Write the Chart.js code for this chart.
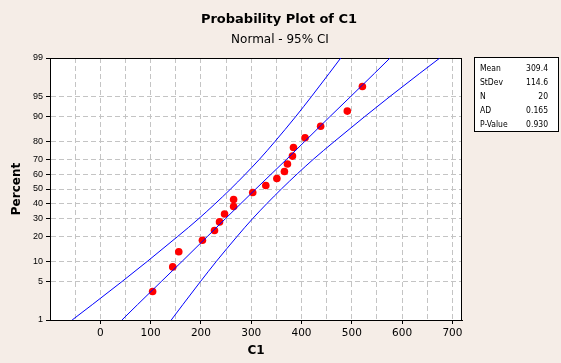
<!DOCTYPE html>
<html>
<head>
<meta charset="utf-8">
<script src="https://cdn.jsdelivr.net/npm/chart.js@4.4.0/dist/chart.umd.min.js"></script>
<style>
  html, body { margin: 0; padding: 0; background: #F5EDE7; }
  #wrap { width: 561px; height: 363px; }
</style>
</head>
<body>
<div id="wrap"><canvas id="c" width="561" height="363"></canvas></div>
<script>
// ---- data ----
const sampleValues = [104, 144, 156, 203, 227, 237, 247, 265, 265, 303, 329, 351, 366, 372, 382, 384, 407, 438, 491, 521];
const samplePercents = [3.43, 8.33, 13.24, 18.14, 23.04, 27.94, 32.84, 37.75, 42.65, 47.55, 52.45, 57.35, 62.25, 67.16, 72.06, 76.96, 81.86, 86.76, 91.67, 96.57];

const curvePercents = [1, 2, 5, 10, 20, 30, 50, 70, 80, 90, 95, 98, 99];
const lowerBandX = [-56, -16, 43, 94, 154, 196, 259, 316, 347, 388, 420, 455, 478];
const fitLineX   = [43, 74, 121, 163, 213, 249, 309, 370, 406, 456, 498, 545, 576];
const upperBandX = [141, 164, 199, 231, 272, 303, 360, 423, 465, 525, 576, 635, 675];

const yTickPercents = [1, 5, 10, 20, 30, 40, 50, 60, 70, 80, 90, 95, 99];
const xGridValues = [-50, 0, 50, 100, 150, 200, 250, 300, 350, 400, 450, 500, 550, 600, 650, 700];

const statLabels = ['Mean', 'StDev', 'N', 'AD', 'P-Value'];
const statValues = ['309.4', '114.6', '20', '0.165', '0.930'];

const titleText = 'Probability Plot of C1';
const subtitleText = 'Normal - 95% CI';

// ---- inverse normal CDF for the probability axis ----
function probit(p) {
  const a=[-3.969683028665376e+01,2.209460984245205e+02,-2.759285104469687e+02,1.383577518672690e+02,-3.066479806614716e+01,2.506628277459239e+00];
  const b=[-5.447609879822406e+01,1.615858368580409e+02,-1.556989798598866e+02,6.680131188771972e+01,-1.328068155288572e+01];
  const c=[-7.784894002430293e-03,-3.223964580411365e-01,-2.400758277161838e+00,-2.549732539343734e+00,4.374664141464968e+00,2.938163982698783e+00];
  const d=[7.784695709041462e-03,3.224671290700398e-01,2.445134137142996e+00,3.754408661907416e+00];
  const pl = 0.02425, ph = 1 - pl;
  let q, r;
  if (p < pl) { q = Math.sqrt(-2*Math.log(p)); return (((((c[0]*q+c[1])*q+c[2])*q+c[3])*q+c[4])*q+c[5])/((((d[0]*q+d[1])*q+d[2])*q+d[3])*q+1); }
  if (p <= ph) { q = p - 0.5; r = q*q; return (((((a[0]*r+a[1])*r+a[2])*r+a[3])*r+a[4])*r+a[5])*q/(((((b[0]*r+b[1])*r+b[2])*r+b[3])*r+b[4])*r+1); }
  q = Math.sqrt(-2*Math.log(1-p)); return -(((((c[0]*q+c[1])*q+c[2])*q+c[3])*q+c[4])*q+c[5])/((((d[0]*q+d[1])*q+d[2])*q+d[3])*q+1);
}

class ProbabilityScale extends Chart.LinearScale {
  determineDataLimits() {
    this.min = this.options.min;
    this.max = this.options.max;
  }
  buildTicks() {
    return yTickPercents.map(v => ({ value: v }));
  }
  getPixelForValue(v) {
    const z0 = probit(this.min / 100), z1 = probit(this.max / 100);
    return this.getPixelForDecimal((probit(v / 100) - z0) / (z1 - z0));
  }
  getValueForPixel(px) {
    let lo = this.min, hi = this.max;
    for (let i = 0; i < 60; i++) {
      const mid = (lo + hi) / 2;
      const pm = this.getPixelForValue(mid);
      if (pm > px) lo = mid; else hi = mid;
    }
    return (lo + hi) / 2;
  }
}
ProbabilityScale.id = 'probability';
Chart.register(ProbabilityScale);

const BG = '#F5EDE7';

const decorPlugin = {
  id: 'decor',
  beforeDraw(chart) {
    const { ctx, chartArea: a } = chart;
    ctx.save();
    ctx.fillStyle = BG;
    ctx.fillRect(0, 0, chart.width, chart.height);
    ctx.fillStyle = '#FFFFFF';
    ctx.fillRect(a.left, a.top, a.right - a.left, a.bottom - a.top);
    ctx.restore();
  },
  beforeDatasetsDraw(chart) {
    const { ctx, chartArea: a } = chart;
    ctx.save();
    ctx.strokeStyle = '#000';
    ctx.lineWidth = 1;
    ctx.setLineDash([]);
    ctx.strokeRect(Math.round(a.left) + 0.5, Math.round(a.top) + 0.5, Math.round(a.right - a.left) - 1, Math.round(a.bottom - a.top));
    ctx.restore();
  },
  afterDraw(chart) {
    const { ctx } = chart;
    ctx.save();
    ctx.fillStyle = '#000';
    ctx.textAlign = 'center';
    ctx.textBaseline = 'alphabetic';
    ctx.font = 'bold 13px "DejaVu Sans"';
    ctx.fillText(titleText, 279, 23);
    ctx.font = '12px "DejaVu Sans"';
    ctx.fillText(subtitleText, 280, 42.5);

    // stats box
    ctx.fillStyle = '#FFFFFF';
    ctx.fillRect(474.5, 57.5, 84, 74);
    ctx.strokeStyle = '#000';
    ctx.lineWidth = 1;
    ctx.strokeRect(474.5, 57.5, 84, 74);
    ctx.fillStyle = '#000';
    ctx.font = '8.5px "DejaVu Sans Condensed", "DejaVu Sans", sans-serif';
    for (let i = 0; i < statLabels.length; i++) {
      const y = 71.3 + i * 13.9;
      ctx.textAlign = 'left';
      ctx.fillText(statLabels[i], 480, y);
      ctx.textAlign = 'right';
      ctx.fillText(statValues[i], 548, y);
    }
    ctx.restore();
  }
};

const lineStyle = {
  type: 'line',
  borderColor: '#0000FF',
  borderWidth: 1,
  pointRadius: 0,
  fill: false,
  cubicInterpolationMode: 'monotone',
  showLine: true
};

new Chart(document.getElementById('c'), {
  type: 'scatter',
  data: {
    datasets: [
      Object.assign({ data: curvePercents.map((p, i) => ({ x: lowerBandX[i], y: p })) }, lineStyle),
      Object.assign({ data: curvePercents.map((p, i) => ({ x: fitLineX[i], y: p })) }, lineStyle),
      Object.assign({ data: curvePercents.map((p, i) => ({ x: upperBandX[i], y: p })) }, lineStyle),
      {
        type: 'scatter',
        data: sampleValues.map((x, i) => ({ x: x, y: samplePercents[i] })),
        backgroundColor: '#FF0000',
        borderWidth: 0,
        pointRadius: 3.8,
        showLine: false
      }
    ]
  },
  options: {
    responsive: false,
    animation: false,
    devicePixelRatio: 1,
    layout: { padding: { left: 0, top: 58, right: 99, bottom: 0 } },
    plugins: { legend: { display: false }, tooltip: { enabled: false }, title: { display: false } },
    scales: {
      x: {
        type: 'linear',
        min: -100,
        max: 719,
        afterBuildTicks(scale) { scale.ticks = xGridValues.map(v => ({ value: v })); },
        afterFit(scale) { scale.height = 43; },
        ticks: {
          autoSkip: false,
          maxRotation: 0,
          padding: 3,
          color: '#000',
          font: { family: '"DejaVu Sans"', size: 10.5 },
          callback: (v) => (v % 100 === 0 ? String(v) : '')
        },
        grid: {
          color: '#C4C4C4',
          lineWidth: 1,
          tickLength: 4,
          tickColor: (ctx) => (ctx.tick && ctx.tick.value % 100 === 0 ? '#000000' : 'rgba(0,0,0,0)'),
          tickBorderDash: [],
          tickWidth: 1
        },
        border: { display: true, color: '#000', width: 1, dash: [5, 3] },
        title: {
          display: true,
          text: 'C1',
          color: '#000',
          font: { family: '"DejaVu Sans"', size: 12, weight: 'bold' },
          padding: { top: 0, bottom: 5 }
        }
      },
      y: {
        type: 'probability',
        min: 1,
        max: 99,
        afterFit(scale) { scale.width = 50; },
        ticks: {
          autoSkip: false,
          padding: 3,
          color: '#000',
          font: { family: '"Liberation Sans"', size: 9 },
          callback: (v) => String(v)
        },
        grid: {
          color: '#C4C4C4',
          lineWidth: 1,
          tickLength: 4,
          tickColor: '#000000',
          tickBorderDash: [],
          tickWidth: 1
        },
        border: { display: true, color: '#000', width: 1, dash: [5, 3] },
        title: {
          display: true,
          text: 'Percent',
          color: '#000',
          font: { family: '"DejaVu Sans"', size: 12, weight: 'bold' },
          padding: { top: 10, bottom: 0 }
        }
      }
    }
  },
  plugins: [decorPlugin]
});
</script>
</body>
</html>
